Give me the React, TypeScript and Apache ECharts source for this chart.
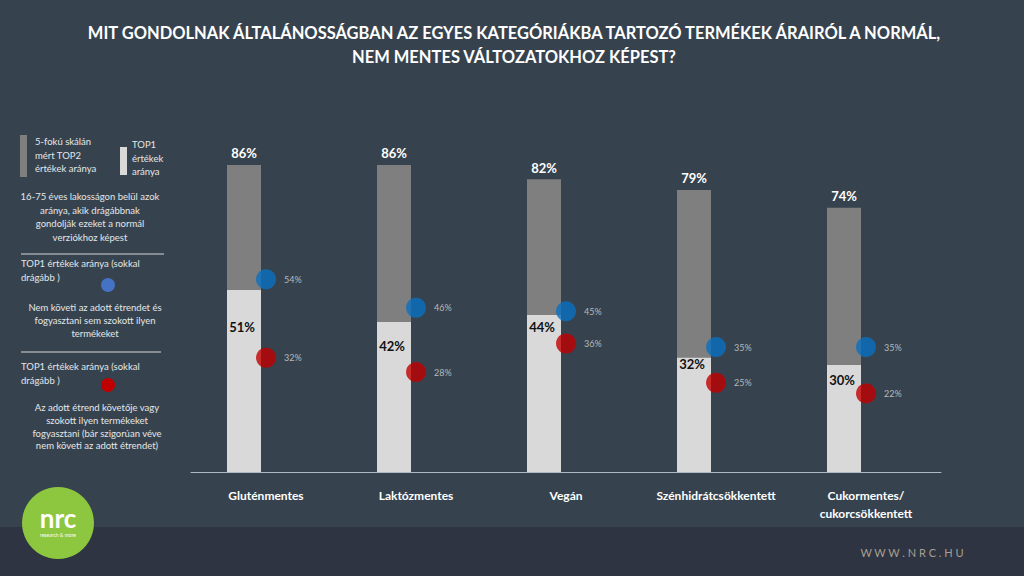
import React, { useEffect, useRef } from "react";
import * as echarts from "echarts";

const categories = ["Gluténmentes", "Laktózmentes", "Vegán", "Szénhidrátcsökkentett", "Cukormentes/\ncukorcsökkentett"];
const top2Values = [86, 86, 82, 79, 74];
const top1Values = [51, 42, 44, 32, 30];
const nonFollowerTop1 = [54, 46, 45, 35, 35];
const followerTop1 = [32, 28, 36, 25, 22];
const top1LabelShift = [27, 13, 2, -4, 5];

const TITLE = "MIT GONDOLNAK ÁLTALÁNOSSÁGBAN AZ EGYES KATEGÓRIÁKBA TARTOZÓ TERMÉKEK ÁRAIRÓL A NORMÁL,\nNEM MENTES VÁLTOZATOKHOZ KÉPEST?";

const FONT = "Lato, 'Open Sans', sans-serif";

export default function App() {
  const ref = useRef<HTMLDivElement>(null);
  useEffect(() => {
    if (!ref.current) return;
    const chart = echarts.init(ref.current, null, { renderer: "svg" });
    const txt = "#e4e6e8";
    const option: any = {
      animation: false,
      backgroundColor: "#36434e",
      grid: [
        { left: 169, right: 105, top: 115, bottom: 104 },
        { left: 191, right: 83, top: 115, bottom: 104 },
      ],
      xAxis: [
        { type: "category", gridIndex: 0, data: categories, show: false },
        {
          type: "category",
          gridIndex: 1,
          data: categories,
          axisLine: { lineStyle: { color: "#aebbc6", width: 1 } },
          axisTick: { show: false },
          axisLabel: { interval: 0, color: "#ffffff", fontSize: 12, fontWeight: "bold", fontFamily: FONT, margin: 14, lineHeight: 18 },
        },
      ],
      yAxis: [
        { type: "value", gridIndex: 0, min: 0, max: 100, show: false },
        { type: "value", gridIndex: 1, min: 0, max: 100, show: false },
      ],
      series: [
        {
          type: "bar",
          xAxisIndex: 0,
          yAxisIndex: 0,
          barWidth: 34,
          barGap: "-100%",
          data: top2Values,
          itemStyle: { color: "#7f7f7f" },
          label: {
            show: true,
            position: "top",
            distance: 5,
            formatter: "{c}%",
            color: "#ffffff",
            fontSize: 13,
            fontWeight: "bold",
            fontFamily: FONT,
          },
          z: 1,
        },
        {
          type: "bar",
          xAxisIndex: 0,
          yAxisIndex: 0,
          barWidth: 34,
          barGap: "-100%",
          data: top1Values.map((v, i) => ({ value: v, label: { offset: [-2, top1LabelShift[i]] } })),
          itemStyle: { color: "#d9d9d9" },
          label: {
            show: true,
            position: "insideTop",
            distance: 4,
            formatter: "{c}%",
            color: "#111111",
            fontSize: 13,
            fontWeight: "bold",
            fontFamily: FONT,
          },
          z: 2,
        },
        {
          type: "scatter",
          xAxisIndex: 1,
          yAxisIndex: 1,
          symbolSize: 20,
          data: nonFollowerTop1,
          itemStyle: { color: "#0a70c2" },
          label: { show: true, position: "right", distance: 8, formatter: "{c}%", color: "#d8d8d8", fontSize: 9, fontFamily: FONT },
          z: 5,
        },
        {
          type: "scatter",
          xAxisIndex: 1,
          yAxisIndex: 1,
          symbolSize: 20,
          data: followerTop1,
          itemStyle: { color: "#c00000" },
          label: { show: true, position: "right", distance: 8, formatter: "{c}%", color: "#d8d8d8", fontSize: 9, fontFamily: FONT },
          z: 5,
        },
      ],
      graphic: [
        { type: "rect", z: -10, silent: true, shape: { x: 0, y: 527, width: 1024, height: 49 }, style: { fill: "#2e3441" } },
        // title
        { type: "text", x: 514, y: 20, scaleX: 0.97, originX: 0, originY: 0, style: { text: TITLE, fill: "#ffffff", fontSize: 17, fontWeight: "bold", fontFamily: FONT, lineHeight: 24, align: "center" } },
        // legend
        { type: "rect", shape: { x: 20, y: 135, width: 7, height: 42 }, style: { fill: "#7f7f7f" } },
        { type: "text", x: 35, y: 135, style: { text: "5-fokú skálán\nmért TOP2\nértékek aránya", fill: txt, fontSize: 9.5, lineHeight: 13.5, fontFamily: FONT } },
        { type: "rect", shape: { x: 120, y: 147, width: 7, height: 28 }, style: { fill: "#d9d9d9" } },
        { type: "text", x: 132, y: 138, style: { text: "TOP1\nértékek\naránya", fill: txt, fontSize: 9.5, lineHeight: 13.5, fontFamily: FONT } },
        { type: "text", x: 90, y: 190, style: { text: "16-75 éves lakosságon belül azok\naránya, akik drágábbnak\ngondolják ezeket a normál\nverziókhoz képest", fill: txt, fontSize: 9.5, lineHeight: 13.5, fontFamily: FONT, align: "center" } },
        { type: "line", shape: { x1: 21, y1: 254, x2: 164, y2: 254 }, style: { stroke: "#d6d6d6", lineWidth: 1 } },
        { type: "text", x: 21, y: 257, style: { text: "TOP1 értékek aránya (sokkal\ndrágább )", fill: txt, fontSize: 9.5, lineHeight: 13.5, fontFamily: FONT } },
        { type: "circle", shape: { cx: 108, cy: 285, r: 7 }, style: { fill: "#4472c4" } },
        { type: "text", x: 95, y: 301, style: { text: "Nem követi az adott étrendet és\nfogyasztani sem szokott ilyen\ntermékeket", fill: txt, fontSize: 9.5, lineHeight: 13, fontFamily: FONT, align: "center" } },
        { type: "line", shape: { x1: 21, y1: 352, x2: 161, y2: 352 }, style: { stroke: "#d6d6d6", lineWidth: 1 } },
        { type: "text", x: 21, y: 360, style: { text: "TOP1 értékek aránya (sokkal\ndrágább )", fill: txt, fontSize: 9.5, lineHeight: 13.5, fontFamily: FONT } },
        { type: "circle", shape: { cx: 108, cy: 385, r: 7 }, style: { fill: "#c00000" } },
        { type: "text", x: 97, y: 401, style: { text: "Az adott étrend követője vagy\nszokott ilyen termékeket\nfogyasztani (bár szigorúan véve\nnem követi az adott étrendet)", fill: txt, fontSize: 9.5, lineHeight: 12.8, fontFamily: FONT, align: "center" } },
        // logo
        { type: "circle", shape: { cx: 58, cy: 523, r: 36 }, style: { fill: "#8dc63f" } },
        { type: "text", x: 58, y: 518, style: { text: "nrc", fill: "#ffffff", fontSize: 26, fontWeight: "bold", fontFamily: FONT, align: "center", verticalAlign: "middle" } },
        { type: "text", x: 58, y: 535, style: { text: "research & more", fill: "#ffffff", fontSize: 5, fontFamily: FONT, align: "center", verticalAlign: "middle" } },
        // footer
        { type: "text", x: 912, y: 552, style: { text: "W W W . N R C . H U", fill: "#a89f90", fontSize: 11, fontFamily: FONT, align: "center", verticalAlign: "middle" } },
      ],
    };
    chart.setOption(option);
    return () => chart.dispose();
  }, []);
  return <div ref={ref} style={{ width: 1024, height: 576, position: "absolute", left: 0, top: 0 }} />;
}
